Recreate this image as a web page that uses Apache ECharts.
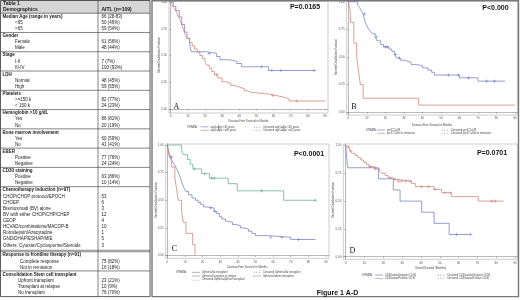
<!DOCTYPE html>
<html><head><meta charset="utf-8">
<script src="https://cdn.jsdelivr.net/npm/echarts@6/dist/echarts.min.js"></script>
<style>html,body{margin:0;padding:0;background:#fff}#c{width:520px;height:300px}</style>
</head><body><div id="c"></div><script>
// ---------------- TABLE DATA ----------------
const tableTitle = ['Table 1', 'Demographics'];
const tableHeadValue = 'AITL (n=109)';
const groupTitles = ['Median Age (range in years)', 'Gender', 'Stage', 'LDH', 'Platelets',
  'Hemoglobin >10 g/dL', 'Bone marrow involvement', 'EBER', 'CD30 staining',
  'Chemotherapy induction (n=97)', 'Response to frontline therapy (n=91)', 'Consolidation Stem cell transplant'];
const groupTitleValues = ['66 (28-83)', '', '', '', '', '', '', '', '', '', '', ''];
const rowLabels = [
  ['<65', '>65'],
  ['Female', 'Male'],
  ['I-II', 'III-IV'],
  ['Normal', 'High'],
  ['>=150 k', '< 150 k'],
  ['Yes', 'No'],
  ['Yes', 'No'],
  ['Positive', 'Negative'],
  ['Positive', 'Negative'],
  ['CHOP/CHOP protocol/EPOCH', 'CHOEP', 'Brentuximab (BV) alone', 'BV with either CHOP/CHP/CHEP', 'CEOP',
   'HCVAD/combinations/MACOP-B', 'Romidepsin/Azacytadine', 'GND/DHAP/ESHAP/MIE', 'Others: Cytoxan/Cyclosporine/Steroids'],
  ['Complete response', 'Not in remission'],
  ['Upfront transplant', 'Transplant at relapse', 'No transplant']
];
const rowValues = [
  ['50 (46%)', '59 (54%)'],
  ['61 (56%)', '48 (44%)'],
  ['7 (7%)', '100 (93%)'],
  ['48 (45%)', '59 (55%)'],
  ['82 (77%)', '24 (23%)'],
  ['86 (81%)', '20 (19%)'],
  ['60 (59%)', '41 (41%)'],
  ['77 (76%)', '24 (24%)'],
  ['63 (86%)', '10 (14%)'],
  ['53', '6', '3', '12', '4', '10', '1', '5', '3'],
  ['75 (82%)', '16 (18%)'],
  ['23 (21%)', '10 (9%)', '76 (70%)']
];

// ---------------- KM DATA ----------------
const xTicks = [0, 10, 20, 30, 40, 50, 60, 70, 80, 90];
const yTicks = [0, 0.25, 0.5, 0.75, 1];
const pValues = ['P=0.0165', 'P<0.000', 'P<0.0001', 'P=0.0701'];
const panelLetters = ['A', 'B', 'C', 'D'];
const xTitles = ['Disease-Free Survival in Months', 'Disease-Free Survival in Months', 'Disease-Free Survival in Months', 'Overall Survival (Months)'];
const yTitle = 'Survival Distribution Function';

// A: age
const aYoungT = [1.5, 3, 5, 6.5, 8, 9.5, 11, 12, 21, 26.8, 28.8, 34.6, 38.5, 41.4, 57];
const aYoungS = [0.96, 0.92, 0.86, 0.79, 0.72, 0.66, 0.61, 0.535, 0.52, 0.49, 0.46, 0.445, 0.425, 0.395, 0.36];
const aYoungCens = [22.5, 53, 59, 64.3, 83.6];
const aYoungEnd = 84.5;
const aOldT = [0.5, 1.5, 2.5, 3.5, 4.5, 5.5, 6.5, 7.5, 8.5, 9.5, 11, 12.5, 14, 15.5, 17, 18.5, 20, 21, 22.5, 24, 25.5, 27.5, 30, 32, 35, 37, 40, 43, 45, 47, 57, 62, 66, 69];
const aOldS = [0.98, 0.95, 0.93, 0.9, 0.86, 0.83, 0.78, 0.74, 0.69, 0.66, 0.62, 0.59, 0.56, 0.53, 0.5, 0.47, 0.44, 0.41, 0.38, 0.35, 0.32, 0.29, 0.255, 0.24, 0.22, 0.205, 0.19, 0.17, 0.155, 0.14, 0.125, 0.11, 0.095, 0.075];
const aOldCens = [26.8, 59.5, 73.5];
const aOldEnd = 90;

// B: response
const bCrT = [5, 6, 7, 8, 9, 10, 11, 12, 13, 14.5, 15.5, 17.5, 19, 22, 23.5, 25, 26, 28, 30, 32, 34, 37, 40, 43, 45, 46.5, 60, 70];
const bCrS = [0.97, 0.95, 0.92, 0.89, 0.82, 0.78, 0.75, 0.73, 0.71, 0.68, 0.645, 0.61, 0.59, 0.57, 0.55, 0.52, 0.49, 0.47, 0.46, 0.45, 0.43, 0.42, 0.40, 0.38, 0.36, 0.335, 0.31, 0.28];
const bCrCens = [8.6, 15.3, 20, 21, 25.5, 27.5, 54, 59.4, 65, 74.7, 79];
const bCrEnd = 84.6;
const bNrT = [0.9, 1.3, 3, 4.5, 5.5, 6.5, 8, 38];
const bNrS = [0.9375, 0.8125, 0.625, 0.5, 0.375, 0.25, 0.125, 0.0625];
const bNrCens = [];
const bNrEnd = 90;

// C: transplant
const cNoT = [0.5, 1, 1.5, 2.5, 3.5, 4.5, 5.5, 6.5, 7.5, 8.5, 9.5, 10.5, 12, 14, 16, 17.5, 19, 20.5, 22, 26.5, 28, 29.5, 31, 33, 35, 37, 39, 41.5, 43.5, 46, 48, 50, 57, 70];
const cNoS = [0.97, 0.93, 0.89, 0.86, 0.84, 0.81, 0.78, 0.74, 0.70, 0.65, 0.61, 0.58, 0.55, 0.52, 0.50, 0.48, 0.46, 0.44, 0.43, 0.40, 0.38, 0.35, 0.33, 0.31, 0.30, 0.28, 0.27, 0.25, 0.24, 0.22, 0.20, 0.18, 0.165, 0.145];
const cNoCens = [2, 24.5, 27, 58.7, 65, 74.5];
const cNoEnd = 84;
const cRelT = [1, 2.5, 4.3, 5.3, 6.2, 8.1, 9.1, 10.6, 14.4, 15.7];
const cRelS = [0.9, 0.8, 0.7, 0.6, 0.5, 0.4, 0.3, 0.2, 0.1, 0];
const cRelCens = [];
const cRelEnd = 15.7;
const cUpT = [8.1, 9, 11.5, 13, 14.5, 19.5, 24, 34.5, 39.7, 66];
const cUpS = [0.957, 0.913, 0.87, 0.826, 0.783, 0.74, 0.70, 0.65, 0.585, 0.50];
const cUpCens = [15.4, 21.3, 25.1, 26.6, 53.5, 84];
const cUpEnd = 84;

// D: CD30
const dNegT = [1, 17.4, 25.3, 28.9, 40.4, 47, 55];
const dNegS = [0.8, 0.7, 0.6, 0.5, 0.4, 0.3, 0.2];
const dNegCens = [59, 66.5];
const dNegEnd = 66.5;
const dPosT = [0.5, 1.5, 2.5, 3.5, 5, 6.5, 8, 9.5, 11, 12.5, 15.5, 18, 19, 21, 22.5, 24.5, 27, 35, 37, 47, 51, 56.3, 70.5];
const dPosS = [0.985, 0.97, 0.95, 0.93, 0.91, 0.89, 0.87, 0.85, 0.83, 0.81, 0.79, 0.77, 0.75, 0.73, 0.71, 0.695, 0.68, 0.66, 0.63, 0.605, 0.575, 0.54, 0.50];
const dPosCens = [1.4, 2.8, 12.9, 15.6, 23.6, 26.2, 28, 29.8, 31.9, 34.2, 40.4, 43.9, 47.5, 52.8, 55.5, 77.6, 79.4];
const dPosEnd = 84;

const legendA = [['age1=Age <65 years', 'age1=Age >=65 years'], ['Censored age1=Age <65 years', 'Censored age1=Age >=65 years']];
const legendB = [['preICT=CR', 'preICT=Not in remission'], ['Censored preICT=CR', 'Censored preICT=Not in remission']];
const legendC = [['Upfront=No transplant', 'Upfront=Transplant at relapse', 'Censored Upfront=Upfront transplant'], ['Censored Upfront=No transplant', 'Upfront=Upfront transplant']];
const legendD = [['CD30stain=Negative CD30', 'CD30stain=Positive CD30'], ['Censored CD30stain=Negative CD30', 'Censored CD30stain=Positive CD30']];
const figureCaption = 'Figure 1 A-D';

// ---------------- LAYOUT ----------------
const BLUE = '#6a74bf', RED = '#cc786c', GREEN = '#5aa886';
const SANS = 'Liberation Sans, Arial, sans-serif';
// frame [left, top, right, bottom]; pixel anchors for x=0, x=90, y=1, y=0
const panels = [
  {frame: [169, 1, 328, 113], x0: 170.7, x90: 325, y1: 2, y0: 109, xGap: 7.2, yt: [159.5, 55]},
  {frame: [346.7, 0.8, 517.4, 115], x0: 348.3, x90: 515, y1: 1.7, y0: 112, xGap: 8.5, yt: [336.5, 57]},
  {frame: [165.7, 144, 329, 258.3], x0: 167.3, x90: 326, y1: 145, y0: 255.5, xGap: 7.8, yt: [156.5, 200]},
  {frame: [343.3, 144, 517.4, 259.3], x0: 345.7, x90: 515, y1: 145.5, y0: 256.7, xGap: 7.4, yt: [333.5, 200]}
];

function survAt(T, S, t) {
  let s = 1;
  for (let i = 0; i < T.length; i++) { if (T[i] <= t) s = S[i]; }
  return s;
}
function steps(T, S, end) {
  const d = [[0, 1]];
  T.forEach((t, i) => d.push([t, S[i]]));
  if (end > T[T.length - 1]) d.push([end, S[S.length - 1]]);
  return d;
}
const curves = [
  {p: 0, T: aYoungT, S: aYoungS, C: aYoungCens, E: aYoungEnd, col: BLUE},
  {p: 0, T: aOldT, S: aOldS, C: aOldCens, E: aOldEnd, col: RED},
  {p: 1, T: bCrT, S: bCrS, C: bCrCens, E: bCrEnd, col: BLUE},
  {p: 1, T: bNrT, S: bNrS, C: bNrCens, E: bNrEnd, col: RED},
  {p: 2, T: cNoT, S: cNoS, C: cNoCens, E: cNoEnd, col: BLUE},
  {p: 2, T: cRelT, S: cRelS, C: cRelCens, E: cRelEnd, col: RED},
  {p: 2, T: cUpT, S: cUpS, C: cUpCens, E: cUpEnd, col: GREEN},
  {p: 3, T: dNegT, S: dNegS, C: dNegCens, E: dNegEnd, col: BLUE},
  {p: 3, T: dPosT, S: dPosS, C: dPosCens, E: dPosEnd, col: RED}
];
const PLUS = 'path://M-0.3,-1.5H0.3V-0.3H1.5V0.3H0.3V1.5H-0.3V0.3H-1.5V-0.3H-0.3Z';

const grid = [], xAxis = [], yAxis = [], series = [];
panels.forEach((p, i) => {
  const [l, t, r, b] = p.frame;
  const ppm = (p.x90 - p.x0) / 90, ppu = (p.y0 - p.y1);
  grid.push({left: l, top: t, width: r - l, height: b - t, show: true, borderColor: '#9a9a9a', borderWidth: 0.5, backgroundColor: 'transparent'});
  xAxis.push({type: 'value', gridIndex: i, min: -(p.x0 - l) / ppm, max: 90 + (r - p.x90) / ppm,
    name: xTitles[i], nameLocation: 'middle', nameGap: p.xGap, nameTextStyle: {fontSize: 2.8, color: '#444', fontFamily: SANS},
    axisLine: {lineStyle: {color: '#777', width: 0.5}}, splitLine: {show: false},
    axisTick: {customValues: xTicks, length: 1.5, lineStyle: {color: '#777', width: 0.5}},
    axisLabel: {customValues: xTicks, fontSize: 3, color: '#555', margin: 2, fontFamily: SANS}});
  yAxis.push({type: 'value', gridIndex: i, min: -(b - p.y0) / ppu, max: 1 + (p.y1 - t) / ppu,
    axisLine: {show: true, lineStyle: {color: '#777', width: 0.5}}, splitLine: {show: false},
    axisTick: {show: true, customValues: yTicks, length: 1.5, lineStyle: {color: '#777', width: 0.5}},
    axisLabel: {customValues: yTicks, fontSize: 3, color: '#555', margin: 2, fontFamily: SANS, formatter: v => v.toFixed(2)}});
});
curves.forEach(c => {
  series.push({type: 'line', xAxisIndex: c.p, yAxisIndex: c.p, step: 'end', showSymbol: false, silent: true,
    animation: false, lineStyle: {color: c.col, width: 0.7}, data: steps(c.T, c.S, c.E)});
  if (c.C.length) series.push({type: 'scatter', xAxisIndex: c.p, yAxisIndex: c.p, symbol: PLUS, symbolSize: 3.2,
    animation: false, itemStyle: {color: c.col}, data: c.C.map(t => [t, survAt(c.T, c.S, t)])});
});

// ---------------- GRAPHICS ----------------
const G = [];
function txt(x, y, s, o) {
  o = o || {};
  G.push({type: 'text', z: 10, x: x, y: y, rotation: o.rot || 0, style: {x: 0, y: 0, text: s, fill: o.fill || '#1a1a1a', fontSize: o.size || 4.5,
    fontFamily: o.family || SANS, fontWeight: o.bold ? 'bold' : 'normal', align: o.align || 'left', verticalAlign: 'middle'}});
}
function ln(x1, y1, x2, y2, col, w) {
  G.push({type: 'line', z: 9, shape: {x1, y1, x2, y2}, style: {stroke: col || '#333', lineWidth: w || 0.6}});
}
// table
G.push({type: 'rect', z: 5, shape: {x: 0.5, y: 0.5, width: 149, height: 13}, style: {fill: '#d6d6d6'}});
txt(3, 3.6, tableTitle[0], {bold: true, size: 5});
txt(3, 9.6, tableTitle[1], {bold: true, size: 5});
txt(101.5, 9.6, tableHeadValue, {bold: true, size: 5});
const indent = [15, 15, 15, 15, 15, 15, 15, 15, 15, 3, 20, 18];
let r = 0;
const P = 6.125;
groupTitles.forEach((g, gi) => {
  const rowY = k => 16.7 + k * P + gi * 0.9 + (gi >= 10 ? 2.85 : 0);
  const y0 = rowY(r);
  if (gi === 10) { ln(0.5, y0 - 4.9, 150, y0 - 4.9, '#333', 0.6); ln(0.5, y0 - 3.4, 150, y0 - 3.4, '#333', 0.6); }
  else ln(0.5, y0 - 3.5, 150, y0 - 3.5, '#333', 0.6);
  txt(2.5, y0, g, {bold: true});
  if (groupTitleValues[gi]) txt(101.5, y0, groupTitleValues[gi]);
  r++;
  rowLabels[gi].forEach((lab, k) => {
    const y = rowY(r);
    txt(indent[gi], y, lab);
    txt(101.5, y, rowValues[gi][k]);
    r++;
  });
});
ln(0.5, 296.6, 150, 296.6, '#333', 0.8);
ln(0.5, 0.5, 0.5, 296.6, '#333', 0.8);
ln(150, 0.5, 150, 296.6, '#333', 0.8);
ln(0.5, 0.5, 150, 0.5, '#333', 0.8);
ln(98, 0.5, 98, 296.6, '#333', 0.6);
// figure border
G.push({type: 'rect', z: 1, shape: {x: 152, y: 0.8, width: 366.5, height: 295.8}, style: {fill: 'none', stroke: '#777', lineWidth: 1.4}});
// y-axis titles
panels.forEach(p => txt(p.yt[0], p.yt[1], yTitle, {size: 2.8, fill: '#444', align: 'center', rot: Math.PI / 2}));
// p values, letters
const pPos = [[305, 6.8], [495.5, 8.3], [309, 154], [492, 152.8]];
pValues.forEach((s, i) => txt(pPos[i][0], pPos[i][1], s, {bold: true, size: 7, align: 'center', fill: '#111'}));
const lPos = [[176.5, 106.7], [354, 107.3], [174.5, 249.3], [352.5, 250.7]];
panelLetters.forEach((s, i) => txt(lPos[i][0], lPos[i][1], s, {size: 8, align: 'center', family: 'Liberation Serif, serif', fill: '#111'}));
txt(337.5, 293.3, figureCaption, {bold: true, size: 7, align: 'center', fill: '#111'});
// legends
function legend(sx, sy, rows, leftX, rightX, left, right) {
  txt(sx, sy, 'STRATA:', {size: 2.6, fill: '#444'});
  [[left, leftX], [right, rightX]].forEach(([items, X]) => items.forEach(it => {
    const y = rows[it.row];
    if (it.cens) txt(X + 4, y, '+ + +', {size: 3, fill: it.col, align: 'center'});
    else ln(X, y, X + 8, y, it.col, 0.6);
    txt(X + 10, y, it.t, {size: 2.6, fill: '#444'});
  }));
}
legend(187, 127, [126.8, 130.3], 200.5, 253,
  [{row: 0, t: legendA[0][0], col: BLUE}, {row: 1, t: legendA[0][1], col: RED}],
  [{row: 0, t: legendA[1][0], col: BLUE, cens: 1}, {row: 1, t: legendA[1][1], col: RED, cens: 1}]);
legend(366, 130, [130, 133.3], 377, 441,
  [{row: 0, t: legendB[0][0], col: BLUE}, {row: 1, t: legendB[0][1], col: RED}],
  [{row: 0, t: legendB[1][0], col: BLUE, cens: 1}, {row: 1, t: legendB[1][1], col: RED, cens: 1}]);
legend(176, 272.3, [272.3, 276, 279.7], 192, 253,
  [{row: 0, t: legendC[0][0], col: BLUE}, {row: 1, t: legendC[0][1], col: RED}, {row: 2, t: legendC[0][2], col: GREEN, cens: 1}],
  [{row: 0, t: legendC[1][0], col: BLUE, cens: 1}, {row: 1, t: legendC[1][1], col: GREEN}]);
legend(362, 275, [275, 278.4], 375, 437,
  [{row: 0, t: legendD[0][0], col: BLUE}, {row: 1, t: legendD[0][1], col: RED}],
  [{row: 0, t: legendD[1][0], col: BLUE, cens: 1}, {row: 1, t: legendD[1][1], col: RED, cens: 1}]);

const chart = echarts.init(document.getElementById('c'), null, {renderer: 'canvas', width: 520, height: 300});
chart.setOption({animation: false, backgroundColor: '#fff', grid, xAxis, yAxis, series, graphic: {elements: G}});
</script></body></html>
